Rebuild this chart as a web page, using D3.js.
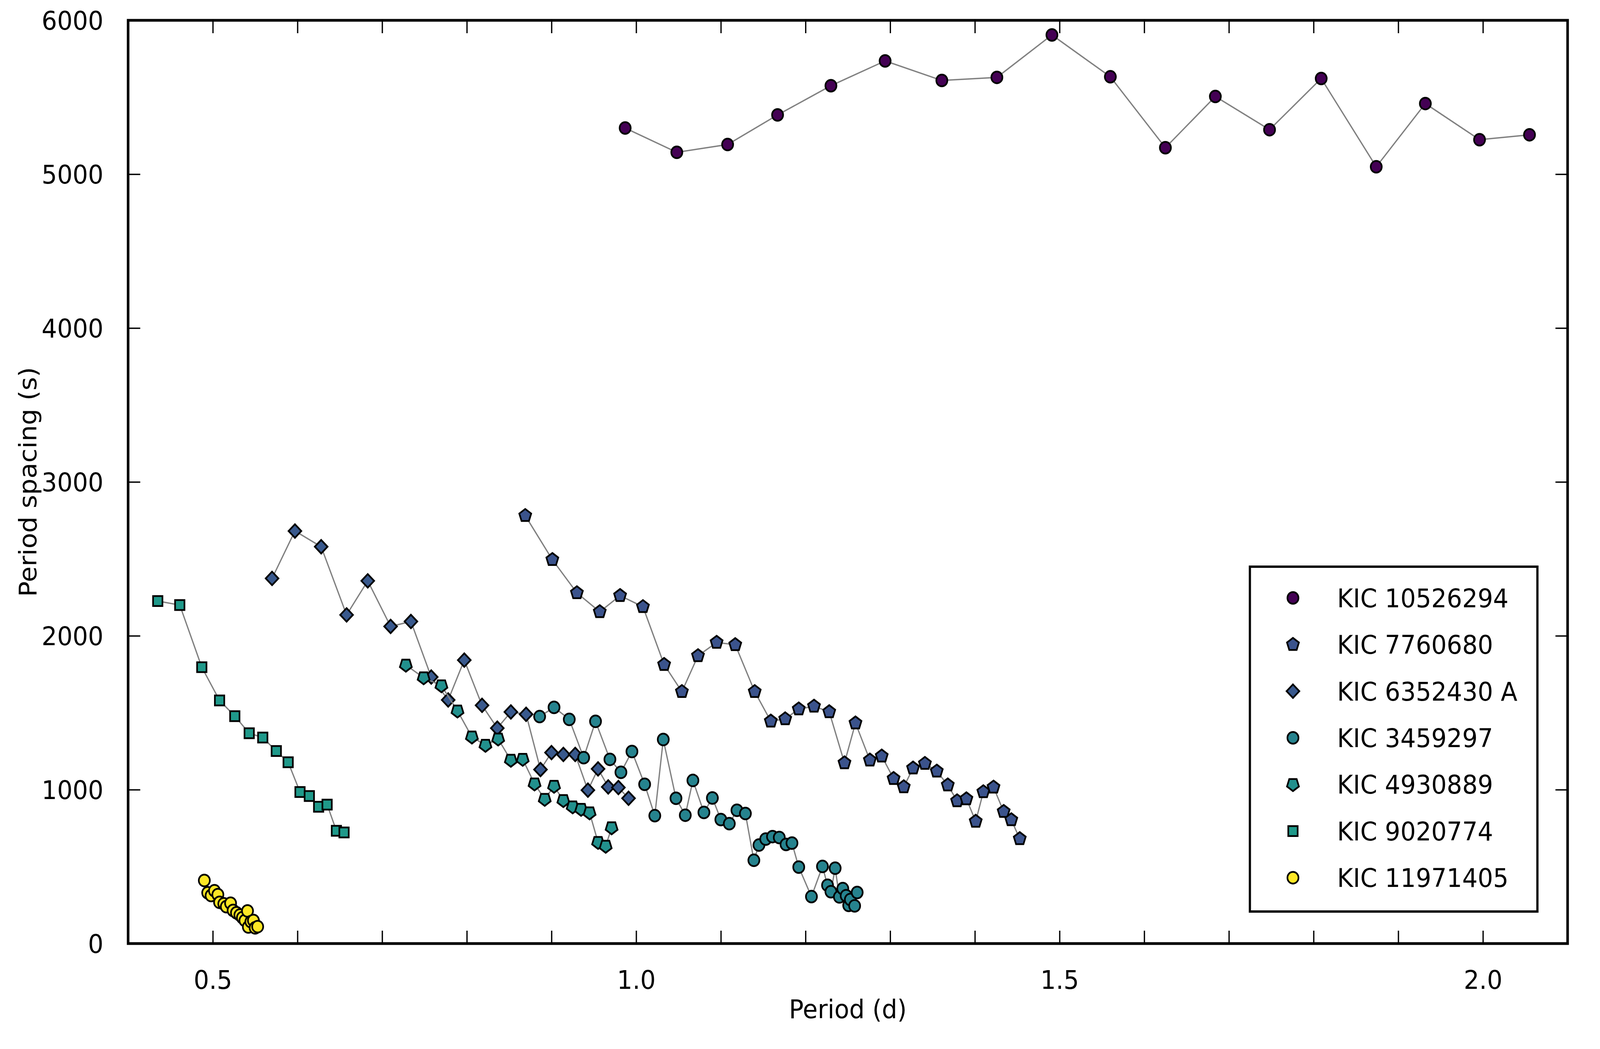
<!DOCTYPE html>
<html lang="en">
  <head>
    <meta charset="UTF-8" />
    <script src="https://d3js.org/d3.v7.min.js"></script>
    <title>Period spacing vs period</title>
    <style type="text/css">
      html, body { margin: 0; padding: 0; background: #fff; overflow: hidden; }
      svg { display: block; width: 100vw; height: 100vh; }
      text { font-family: 'DejaVu Sans', sans-serif; }
    </style>
  </head>
  <body>
    <svg viewBox="0 0 4346 2686" preserveAspectRatio="none"></svg>
  </body>
  <script type="text/javascript">
    // data
    const stars = ['KIC 10526294', 'KIC 7760680', 'KIC 6352430 A', 'KIC 3459297', 'KIC 4930889', 'KIC 9020774', 'KIC 11971405'];

    const period10526294 = [0.987, 1.048, 1.108, 1.167, 1.230, 1.294, 1.361, 1.426, 1.491, 1.560, 1.625, 1.684, 1.748, 1.809, 1.874, 1.932, 1.996, 2.055];
    const spacing10526294 = [5300, 5142, 5193, 5385, 5575, 5736, 5609, 5629, 5905, 5633, 5172, 5505, 5289, 5622, 5048, 5459, 5224, 5256];

    const period7760680 = [0.869, 0.901, 0.930, 0.957, 0.981, 1.008, 1.033, 1.054, 1.073, 1.095, 1.117, 1.140, 1.159, 1.176, 1.192, 1.210, 1.228, 1.246, 1.259, 1.276, 1.290, 1.304, 1.316, 1.327, 1.341, 1.355, 1.368, 1.379, 1.390, 1.401, 1.410, 1.422, 1.434, 1.443, 1.453];
    const spacing7760680 = [2781, 2495, 2279, 2156, 2261, 2189, 1813, 1637, 1870, 1957, 1942, 1637, 1445, 1460, 1524, 1542, 1506, 1174, 1433, 1192, 1218, 1072, 1018, 1140, 1170, 1120, 1030, 927, 940, 794, 986, 1016, 858, 804, 681];

    const period6352430 = [0.570, 0.597, 0.628, 0.658, 0.683, 0.710, 0.734, 0.758, 0.778, 0.797, 0.818, 0.836, 0.852, 0.870, 0.887, 0.900, 0.914, 0.928, 0.943, 0.955, 0.967, 0.979, 0.991];
    const spacing6352430 = [2373, 2681, 2579, 2136, 2357, 2061, 2093, 1732, 1583, 1842, 1548, 1400, 1505, 1490, 1131, 1241, 1229, 1229, 997, 1135, 1018, 1014, 944];

    const period3459297 = [0.886, 0.903, 0.921, 0.938, 0.952, 0.969, 0.982, 0.995, 1.010, 1.022, 1.032, 1.047, 1.058, 1.067, 1.080, 1.090, 1.100, 1.110, 1.119, 1.129, 1.139, 1.145, 1.153, 1.161, 1.169, 1.177, 1.184, 1.192, 1.207, 1.220, 1.226, 1.230, 1.235, 1.240, 1.244, 1.248, 1.251, 1.253, 1.258, 1.261];
    const spacing3459297 = [1475, 1535, 1457, 1208, 1444, 1197, 1113, 1248, 1035, 831, 1326, 944, 834, 1060, 852, 946, 806, 779, 866, 845, 541, 640, 679, 695, 689, 644, 653, 497, 305, 501, 379, 337, 490, 303, 357, 311, 248, 286, 245, 332];

    const period4930889 = [0.728, 0.749, 0.770, 0.789, 0.806, 0.822, 0.837, 0.852, 0.866, 0.880, 0.892, 0.903, 0.914, 0.925, 0.935, 0.945, 0.955, 0.964, 0.971];
    const spacing4930889 = [1810, 1728, 1676, 1512, 1343, 1289, 1330, 1192, 1198, 1038, 938, 1023, 930, 889, 873, 850, 658, 633, 753];

    const period9020774 = [0.435, 0.461, 0.487, 0.508, 0.526, 0.543, 0.559, 0.575, 0.589, 0.603, 0.614, 0.625, 0.635, 0.646, 0.655];
    const spacing9020774 = [2226, 2200, 1796, 1580, 1478, 1367, 1339, 1251, 1178, 985, 959, 889, 903, 733, 722];

    const period11971405 = [0.490, 0.494, 0.498, 0.502, 0.506, 0.508, 0.513, 0.516, 0.521, 0.524, 0.528, 0.532, 0.535, 0.538, 0.541, 0.542, 0.545, 0.548, 0.550, 0.553];
    const spacing11971405 = [410, 330, 312, 343, 318, 268, 258, 240, 262, 215, 200, 185, 168, 150, 212, 108, 142, 150, 102, 110];

    const xTickValues = [0.4, 0.5, 0.6, 0.7, 0.8, 0.9, 1.0, 1.1, 1.2, 1.3, 1.4, 1.5, 1.6, 1.7, 1.8, 1.9, 2.0, 2.1];
    const xTickLabels = [0.5, 1.0, 1.5, 2.0];
    const yTickValues = [0, 1000, 2000, 3000, 4000, 5000, 6000];

    //---

    const periods = [period10526294, period7760680, period6352430, period3459297, period4930889, period9020774, period11971405];
    const spacings = [spacing10526294, spacing7760680, spacing6352430, spacing3459297, spacing4930889, spacing9020774, spacing11971405];
    const colors = ['#440154', '#3b538c', '#39598d', '#26838e', '#22908d', '#1f998a', '#fde725'];

    // custom marker shapes
    const pentagon = (flip) => ({
      draw(context, size) {
        const r = Math.sqrt(size / 2.378);
        for (let i = 0; i < 5; i++) {
          const a = ((flip ? 90 : -90) + i * 72) * Math.PI / 180;
          if (i === 0) context.moveTo(r * Math.cos(a), r * Math.sin(a));
          else context.lineTo(r * Math.cos(a), r * Math.sin(a));
        }
        context.closePath();
      }
    });
    const diamond = {
      draw(context, size) {
        const h = Math.sqrt(size / 2);
        context.moveTo(0, -h);
        context.lineTo(h, 0);
        context.lineTo(0, h);
        context.lineTo(-h, 0);
        context.closePath();
      }
    };
    const shapes = [d3.symbolCircle, pentagon(false), diamond, d3.symbolCircle, pentagon(true), d3.symbolSquare, d3.symbolCircle];
    const sizes = [707, 690, 600, 707, 690, 650, 707];

    const series = stars.map((name, i) => ({
      name,
      color: colors[i],
      shape: shapes[i],
      size: sizes[i],
      points: periods[i].map((p, j) => ({ period: p, spacing: spacings[i][j] }))
    }));

    // setup svg canvas (drawn in a 4346 x 2686 coordinate space, stretched to the window)
    const svg = d3.select('svg');
    const W = 4346;
    const H = 2686;
    const margin = { left: 348, right: 88, top: 52, bottom: 270 };
    const width = W - margin.left - margin.right;
    const height = H - margin.top - margin.bottom;

    const xScale = d3.scaleLinear().domain([0.4, 2.1]).range([0, width]);
    const yScale = d3.scaleLinear().domain([0, 6000]).range([height, 0]);

    const g = svg.append('g').attr('transform', `translate(${margin.left}, ${margin.top})`);

    const tickLen = 33;
    const fontSize = 66;

    // axes, ticks pointing inward on all four sides
    const isLabelled = (d) => xTickLabels.some((v) => Math.abs(v - d) < 1e-9);

    const xBottom = g.append('g')
      .attr('transform', `translate(0, ${height})`)
      .call(d3.axisBottom(xScale).tickValues(xTickValues).tickSizeInner(-tickLen).tickSizeOuter(0)
        .tickPadding(tickLen + 36).tickFormat((d) => (isLabelled(d) ? d.toFixed(1) : '')));
    const xTop = g.append('g')
      .call(d3.axisTop(xScale).tickValues(xTickValues).tickSizeInner(-tickLen).tickSizeOuter(0).tickFormat(''));
    const yLeft = g.append('g')
      .call(d3.axisLeft(yScale).tickValues(yTickValues).tickSizeInner(-tickLen).tickSizeOuter(0)
        .tickPadding(tickLen + 34).tickFormat(d3.format('d')));
    const yRight = g.append('g')
      .attr('transform', `translate(${width}, 0)`)
      .call(d3.axisRight(yScale).tickValues(yTickValues).tickSizeInner(-tickLen).tickSizeOuter(0).tickFormat(''));

    [xBottom, xTop, yLeft, yRight].forEach((ax) => {
      ax.select('.domain').remove();
      ax.selectAll('.tick line').attr('stroke', '#000').attr('stroke-width', 3.5);
      ax.selectAll('.tick text').attr('font-size', fontSize).attr('fill', '#000')
        .style('font-family', "'DejaVu Sans', sans-serif");
    });
    yLeft.selectAll('.tick text').attr('dy', '0.36em');

    // lines and markers
    const line = d3.line().x((d) => xScale(d.period)).y((d) => yScale(d.spacing));

    series.forEach((s) => {
      const sg = g.append('g');
      sg.append('path')
        .datum(s.points)
        .attr('d', line)
        .attr('fill', 'none')
        .attr('stroke', '#808080')
        .attr('stroke-width', 3.5);
      sg.selectAll('path.mark')
        .data(s.points)
        .join('path')
        .attr('class', 'mark')
        .attr('transform', (d) => `translate(${xScale(d.period)}, ${yScale(d.spacing)})`)
        .attr('d', d3.symbol().type(s.shape).size(s.size))
        .attr('fill', s.color)
        .attr('stroke', '#000')
        .attr('stroke-width', 4.5);
    });

    // frame
    g.append('rect')
      .attr('width', width)
      .attr('height', height)
      .attr('fill', 'none')
      .attr('stroke', '#000')
      .attr('stroke-width', 7);

    // axis labels
    svg.append('text')
      .attr('x', margin.left + width / 2)
      .attr('y', 2583)
      .attr('dy', '0.36em')
      .attr('text-anchor', 'middle')
      .attr('font-size', fontSize)
      .text('Period (d)');

    svg.append('text')
      .attr('transform', `translate(75, ${margin.top + height / 2}) rotate(-90)`)
      .attr('dy', '0.36em')
      .attr('text-anchor', 'middle')
      .attr('font-size', fontSize)
      .text('Period spacing (s)');

    // legend
    const legend = svg.append('g').attr('transform', 'translate(3395, 1451)');
    legend.append('rect')
      .attr('width', 781)
      .attr('height', 883)
      .attr('fill', '#fff')
      .attr('stroke', '#000')
      .attr('stroke-width', 6);

    const rows = legend.selectAll('.row')
      .data(series)
      .join('g')
      .attr('class', 'row')
      .attr('transform', (d, i) => `translate(0, ${80 + i * 119.4})`);
    rows.append('path')
      .attr('transform', 'translate(117, 0)')
      .attr('d', (d) => d3.symbol().type(d.shape).size(d.size)())
      .attr('fill', (d) => d.color)
      .attr('stroke', '#000')
      .attr('stroke-width', 4.5);
    rows.append('text')
      .attr('x', 237)
      .attr('dy', '0.36em')
      .attr('font-size', fontSize)
      .text((d) => d.name);
  </script>
</html>
